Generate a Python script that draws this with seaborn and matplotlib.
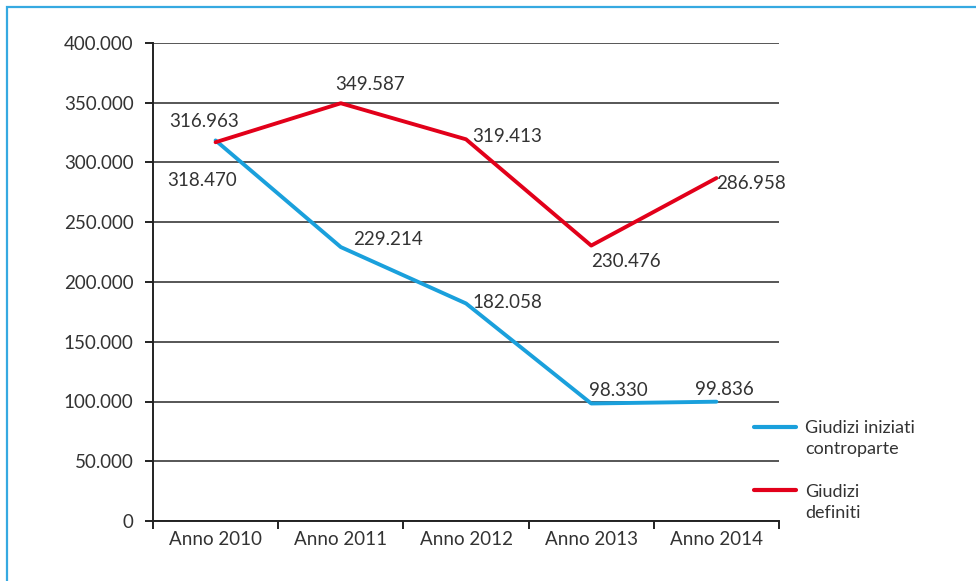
import matplotlib
matplotlib.use("Agg")
import matplotlib.pyplot as plt
import seaborn as sns
import pandas as pd
from matplotlib.patches import Rectangle
from matplotlib.ticker import FixedLocator, FuncFormatter

# Data
anni = ["Anno 2010", "Anno 2011", "Anno 2012", "Anno 2013", "Anno 2014"]
iniziati = [318470, 229214, 182058, 98330, 99836]
definiti = [316963, 349587, 319413, 230476, 286958]
serie = ["Giudizi iniziati\ncontroparte", "Giudizi\ndefiniti"]

BLU = "#1aa0dc"
ROSSO = "#e2001a"
TESTO = "#333333"

df = pd.DataFrame({
    "anno": anni * 2,
    "valore": iniziati + definiti,
    "serie": [serie[0]] * len(anni) + [serie[1]] * len(anni),
})

sns.set_theme(style="white")
plt.rcParams["font.family"] = ["Lato", "DejaVu Sans"]

fig = plt.figure(figsize=(9.76, 5.81), dpi=100)
ax = fig.add_axes([153 / 976, 1 - 521 / 581, 626 / 976, 478 / 581])

sns.lineplot(data=df, x="anno", y="valore", hue="serie", sort=False,
             palette={serie[0]: BLU, serie[1]: ROSSO}, linewidth=2.8,
             ax=ax, legend=True, zorder=3)

ax.set_xlim(-0.5, 4.5)
ax.set_ylim(0, 400000)
ax.set_xlabel("")
ax.set_ylabel("")

# Horizontal gridlines
ax.yaxis.set_major_locator(FixedLocator(range(0, 400001, 50000)))
ax.yaxis.set_major_formatter(FuncFormatter(
    lambda v, p: "0" if v == 0 else f"{int(v):,}".replace(",", ".")))
ax.grid(axis="y", color="#3a3a3a", linewidth=1.2)
ax.grid(axis="x", visible=False)
for s in ["top", "right"]:
    ax.spines[s].set_visible(False)
for s in ["left", "bottom"]:
    ax.spines[s].set_color("#222222")
    ax.spines[s].set_linewidth(1.4)

# Category ticks sit on the boundaries between years
ax.xaxis.set_minor_locator(FixedLocator([i - 0.5 for i in range(len(anni) + 1)]))
ax.tick_params(axis="x", which="major", length=0, pad=7,
               labelsize=13.5, labelcolor=TESTO)
ax.tick_params(axis="x", which="minor", length=6, width=1.4,
               color="#222222", direction="out", bottom=True)
ax.tick_params(axis="y", which="major", length=6, width=1.4,
               color="#222222", direction="out", left=True, pad=8,
               labelsize=13.5, labelcolor=TESTO)

def fmt(v):
    return f"{v:,}".replace(",", ".")

# Value labels (offsets in pixels)
off_iniz = [(-48, -49), (12, -1), (6, -8), (-2, 4), (-21, 4)]
off_def = [(-46, 12), (-6, 10), (6, -6), (0, -24), (0, -14)]
for i, v in enumerate(iniziati):
    ax.annotate(fmt(v), (i, v), xytext=off_iniz[i], textcoords="offset pixels",
                ha="left", va="bottom", fontsize=13.5, color=TESTO)
for i, v in enumerate(definiti):
    ax.annotate(fmt(v), (i, v), xytext=off_def[i], textcoords="offset pixels",
                ha="left", va="bottom", fontsize=13.5, color=TESTO)

# Legend to the right of the plot
handles, labels = ax.get_legend_handles_labels()
ax.legend_.remove()
leg = fig.legend(handles, labels, loc="upper left",
                 bbox_to_anchor=(738 / 976, 1 - 404 / 581),
                 frameon=False, fontsize=13, handlelength=2.3,
                 handletextpad=0.5, labelspacing=1.45, labelcolor=TESTO)
for h in leg.legend_handles:
    h.set_linewidth(3)
for t in leg.get_texts():
    t.set_linespacing(1.4)
# left-align the entries and put each line key beside the first text line
for col in leg._legend_handle_box.get_children():
    col.align = "left"
    for item in col.get_children():
        item.align = "top"

# Frame along the top and left edges
fig.add_artist(Rectangle((6.5 / 976, -0.1), 2.0, 1.1 - 6.5 / 581,
                         transform=fig.transFigure, fill=False,
                         edgecolor="#36a9e1", linewidth=1.6, clip_on=False))

fig.savefig("out.png", dpi=100)
